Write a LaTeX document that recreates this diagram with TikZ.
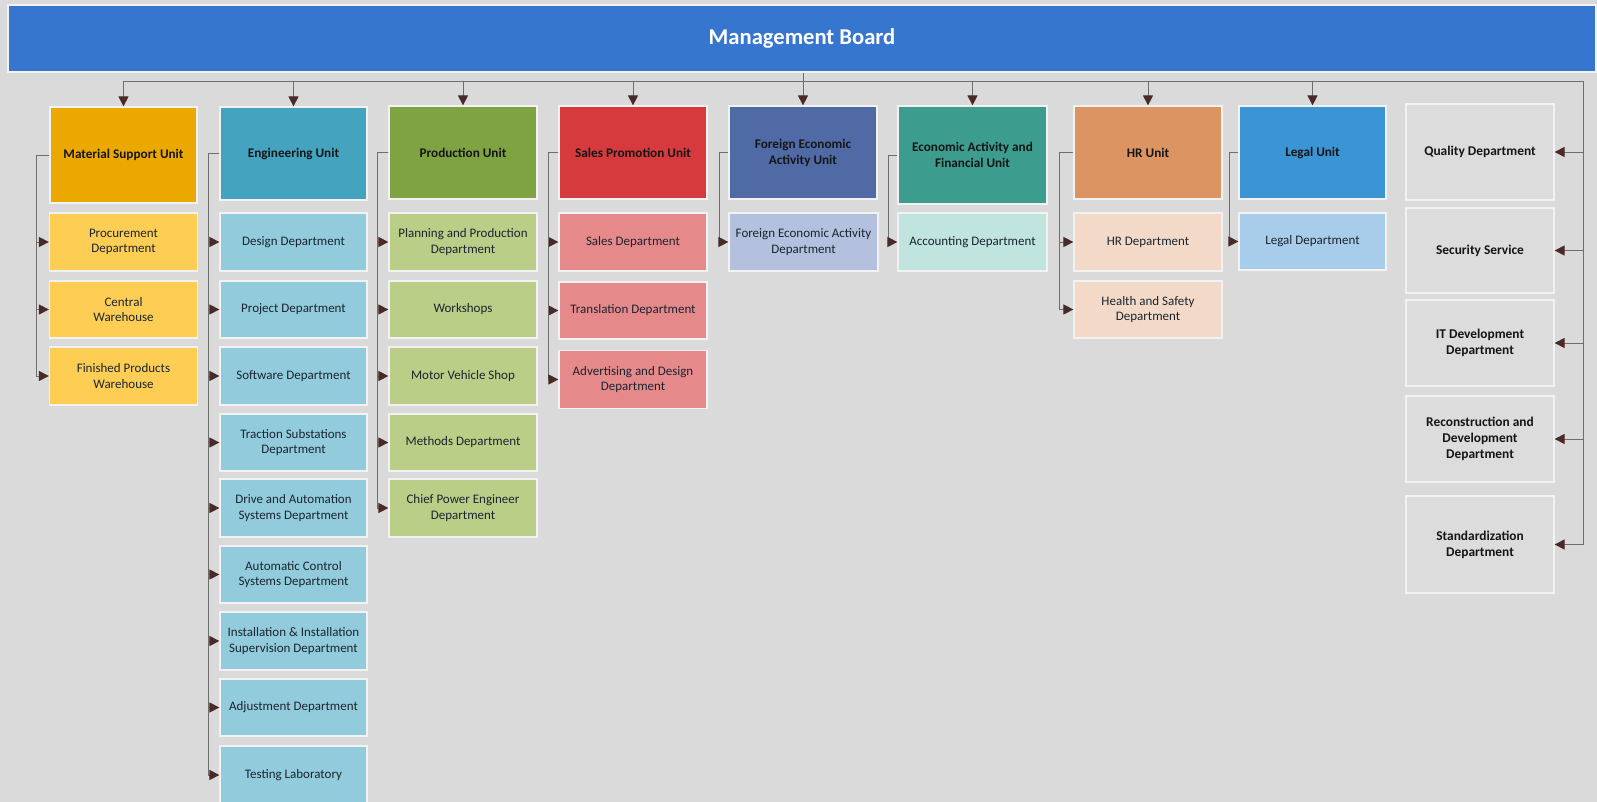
\documentclass[tikz,border=0pt]{standalone}
\usepackage{fontspec}
\setmainfont{Carlito}
\usetikzlibrary{arrows.meta}
\definecolor{bg}{HTML}{DADADA}
\definecolor{boardc}{HTML}{3776CE}
\definecolor{boxedge}{HTML}{F2F2F2}
\definecolor{linec}{HTML}{6E6E6E}
\definecolor{arrc}{HTML}{4A2A28}
\definecolor{unittxt}{HTML}{151515}
\definecolor{childtxt}{HTML}{1A2530}
\definecolor{matU}{HTML}{EAA800}\definecolor{matC}{HTML}{FECE54}
\definecolor{engU}{HTML}{44A4C0}\definecolor{engC}{HTML}{92CCDC}
\definecolor{proU}{HTML}{7FA342}\definecolor{proC}{HTML}{BACE87}
\definecolor{salU}{HTML}{D63A3C}\definecolor{salC}{HTML}{E6898A}
\definecolor{feaU}{HTML}{506AA6}\definecolor{feaC}{HTML}{B4C1DE}
\definecolor{ecoU}{HTML}{3C9C8E}\definecolor{ecoC}{HTML}{C0E4DE}
\definecolor{hrU}{HTML}{DB9462}\definecolor{hrC}{HTML}{F3DAC8}
\definecolor{legU}{HTML}{3B94D4}\definecolor{legC}{HTML}{A8CDEB}
\definecolor{sideC}{HTML}{DCDCDC}
\begin{document}
\begin{tikzpicture}[x=1pt,y=-1pt,
  box/.style={draw=boxedge, line width=1.2pt, inner sep=2pt, align=center,
    font=\fontsize{13}{15.5}\selectfont, text=childtxt},
  unitbox/.style={box, font=\bfseries\fontsize{13.2}{16}\selectfont, text=unittxt},
  sidebox/.style={box, fill=sideC, font=\bfseries\fontsize{13.4}{16}\selectfont, text=unittxt},
  sz/.style 2 args={minimum width=#1pt, minimum height=#2pt},
  line/.style={draw=linec, line width=0.9pt},
  arr/.style={line, -{Triangle[length=10pt,width=10pt,color=arrc]}},
]
\fill[bg] (0,0) rectangle (1597,802);
\useasboundingbox (0,0) rectangle (1597,802);

% board
\node[draw=boxedge, line width=1.2pt, fill=boardc, sz={1588}{67}, text=white,
      font=\bfseries\fontsize{22.6}{26}\selectfont] (board) at (802,38.5) {Management Board};

% units
\node[unitbox, fill=matU, sz={147}{96}] (mat)  at (123.5,155)   {Material Support Unit};
\node[unitbox, fill=engU, sz={147}{93}] (eng)  at (293.5,153.5) {Engineering Unit};
\node[unitbox, fill=proU, sz={148}{93}] (pro)  at (463,152.5)   {Production Unit};
\node[unitbox, fill=salU, sz={148}{93}] (sal)  at (633,152.5)   {Sales Promotion Unit};
\node[unitbox, fill=feaU, sz={148}{93}] (fea)  at (803,152.5)   {Foreign Economic\\Activity Unit};
\node[unitbox, fill=ecoU, sz={149}{98}] (eco)  at (972.5,155)   {Economic Activity and\\Financial Unit};
\node[unitbox, fill=hrU,  sz={148}{93}] (hr)   at (1148,152.5)  {HR Unit};
\node[unitbox, fill=legU, sz={147}{93}] (leg)  at (1312.5,152.5){Legal Unit};

% material children
\node[box, fill=matC, sz={148}{58}] (m1) at (123.5,242)   {Procurement\\Department};
\node[box, fill=matC, sz={148}{57}] (m2) at (123.5,309.5) {Central\\Warehouse};
\node[box, fill=matC, sz={148}{58}] (m3) at (123.5,376)   {Finished Products\\Warehouse};

% engineering children
\node[box, fill=engC, sz={147}{58}] (e1) at (293.5,242)   {Design Department};
\node[box, fill=engC, sz={147}{57}] (e2) at (293.5,309.5) {Project Department};
\node[box, fill=engC, sz={147}{58}] (e3) at (293.5,376)   {Software Department};
\node[box, fill=engC, sz={147}{57}] (e4) at (293.5,442.5) {Traction Substations\\Department};
\node[box, fill=engC, sz={147}{58}] (e5) at (293.5,508)   {Drive and Automation\\Systems Department};
\node[box, fill=engC, sz={147}{57}] (e6) at (293.5,574.5) {Automatic Control\\Systems Department};
\node[box, fill=engC, sz={147}{58}] (e7) at (293.5,641)   {Installation \& Installation\\Supervision Department};
\node[box, fill=engC, sz={147}{57}] (e8) at (293.5,707.5) {Adjustment Department};
\node[box, fill=engC, sz={147}{58}] (e9) at (293.5,775)   {Testing Laboratory};

% production children
\node[box, fill=proC, sz={148}{58}] (p1) at (463,242)   {Planning and Production\\Department};
\node[box, fill=proC, sz={148}{57}] (p2) at (463,309.5) {Workshops};
\node[box, fill=proC, sz={148}{58}] (p3) at (463,376)   {Motor Vehicle Shop};
\node[box, fill=proC, sz={148}{57}] (p4) at (463,442.5) {Methods Department};
\node[box, fill=proC, sz={148}{58}] (p5) at (463,508)   {Chief Power Engineer\\Department};

% sales children
\node[box, fill=salC, sz={148}{58}] (s1) at (633,242)   {Sales Department};
\node[box, fill=salC, sz={148}{57}] (s2) at (633,310.5) {Translation Department};
\node[box, fill=salC, sz={148}{58}] (s3) at (633,379.5) {Advertising and Design\\Department};

% other children
\node[box, fill=feaC, sz={149}{58}] (f1) at (803.5,242) {Foreign Economic Activity\\Department};
\node[box, fill=ecoC, sz={149}{58}] (c1) at (972.5,242) {Accounting Department};
\node[box, fill=hrC,  sz={148}{58}] (h1) at (1148,242)  {HR Department};
\node[box, fill=hrC,  sz={148}{57}] (h2) at (1148,309.5){Health and Safety\\Department};
\node[box, fill=legC, sz={147}{57}] (l1) at (1312.5,241.5) {Legal Department};

% side column
\node[sidebox, sz={148}{96}] (q1) at (1480,152)   {Quality Department};
\node[sidebox, sz={148}{85}] (q2) at (1480,250.5) {Security Service};
\node[sidebox, sz={148}{86}] (q3) at (1480,343)   {IT Development\\Department};
\node[sidebox, sz={148}{86}] (q4) at (1480,439)   {Reconstruction and\\Development\\Department};
\node[sidebox, sz={148}{97}] (q5) at (1480,544.5) {Standardization\\Department};

% bus
\coordinate (busL) at (123.5,81);
\coordinate (busR) at (1583,81);
\coordinate (busEnd) at (1583,544.5);
\draw[line] (busL) -- (busR) -- (busEnd);
\draw[line] (board.south -| fea.north) -- (fea.north |- busL);
\foreach \u in {mat,eng,pro,sal,fea,eco,hr,leg}
  \draw[arr] (\u.north |- busL) -- (\u.north);
\foreach \q in {q1,q2,q3,q4,q5}
  \draw[arr] (\q.east -| busR) -- (\q.east);

% unit to children
\foreach \c in {m1,m2,m3} \draw[arr] (mat.west) -- ++(-13,0) |- (\c.west);
\foreach \c in {e1,e2,e3,e4,e5,e6,e7,e8,e9} \draw[arr] (eng.west) -- ++(-11,0) |- (\c.west);
\foreach \c in {p1,p2,p3,p4,p5} \draw[arr] (pro.west) -- ++(-11,0) |- (\c.west);
\foreach \c in {s1,s2,s3} \draw[arr] (sal.west) -- ++(-10,0) |- (\c.west);
\draw[arr] (fea.west) -- ++(-9,0) |- (f1.west);
\draw[arr] (eco.west) -- ++(-9,0) |- (c1.west);
\foreach \c in {h1,h2} \draw[arr] (hr.west) -- ++(-14,0) |- (\c.west);
\draw[arr] (leg.west) -- ++(-9,0) |- (l1.west);
\end{tikzpicture}
\end{document}
